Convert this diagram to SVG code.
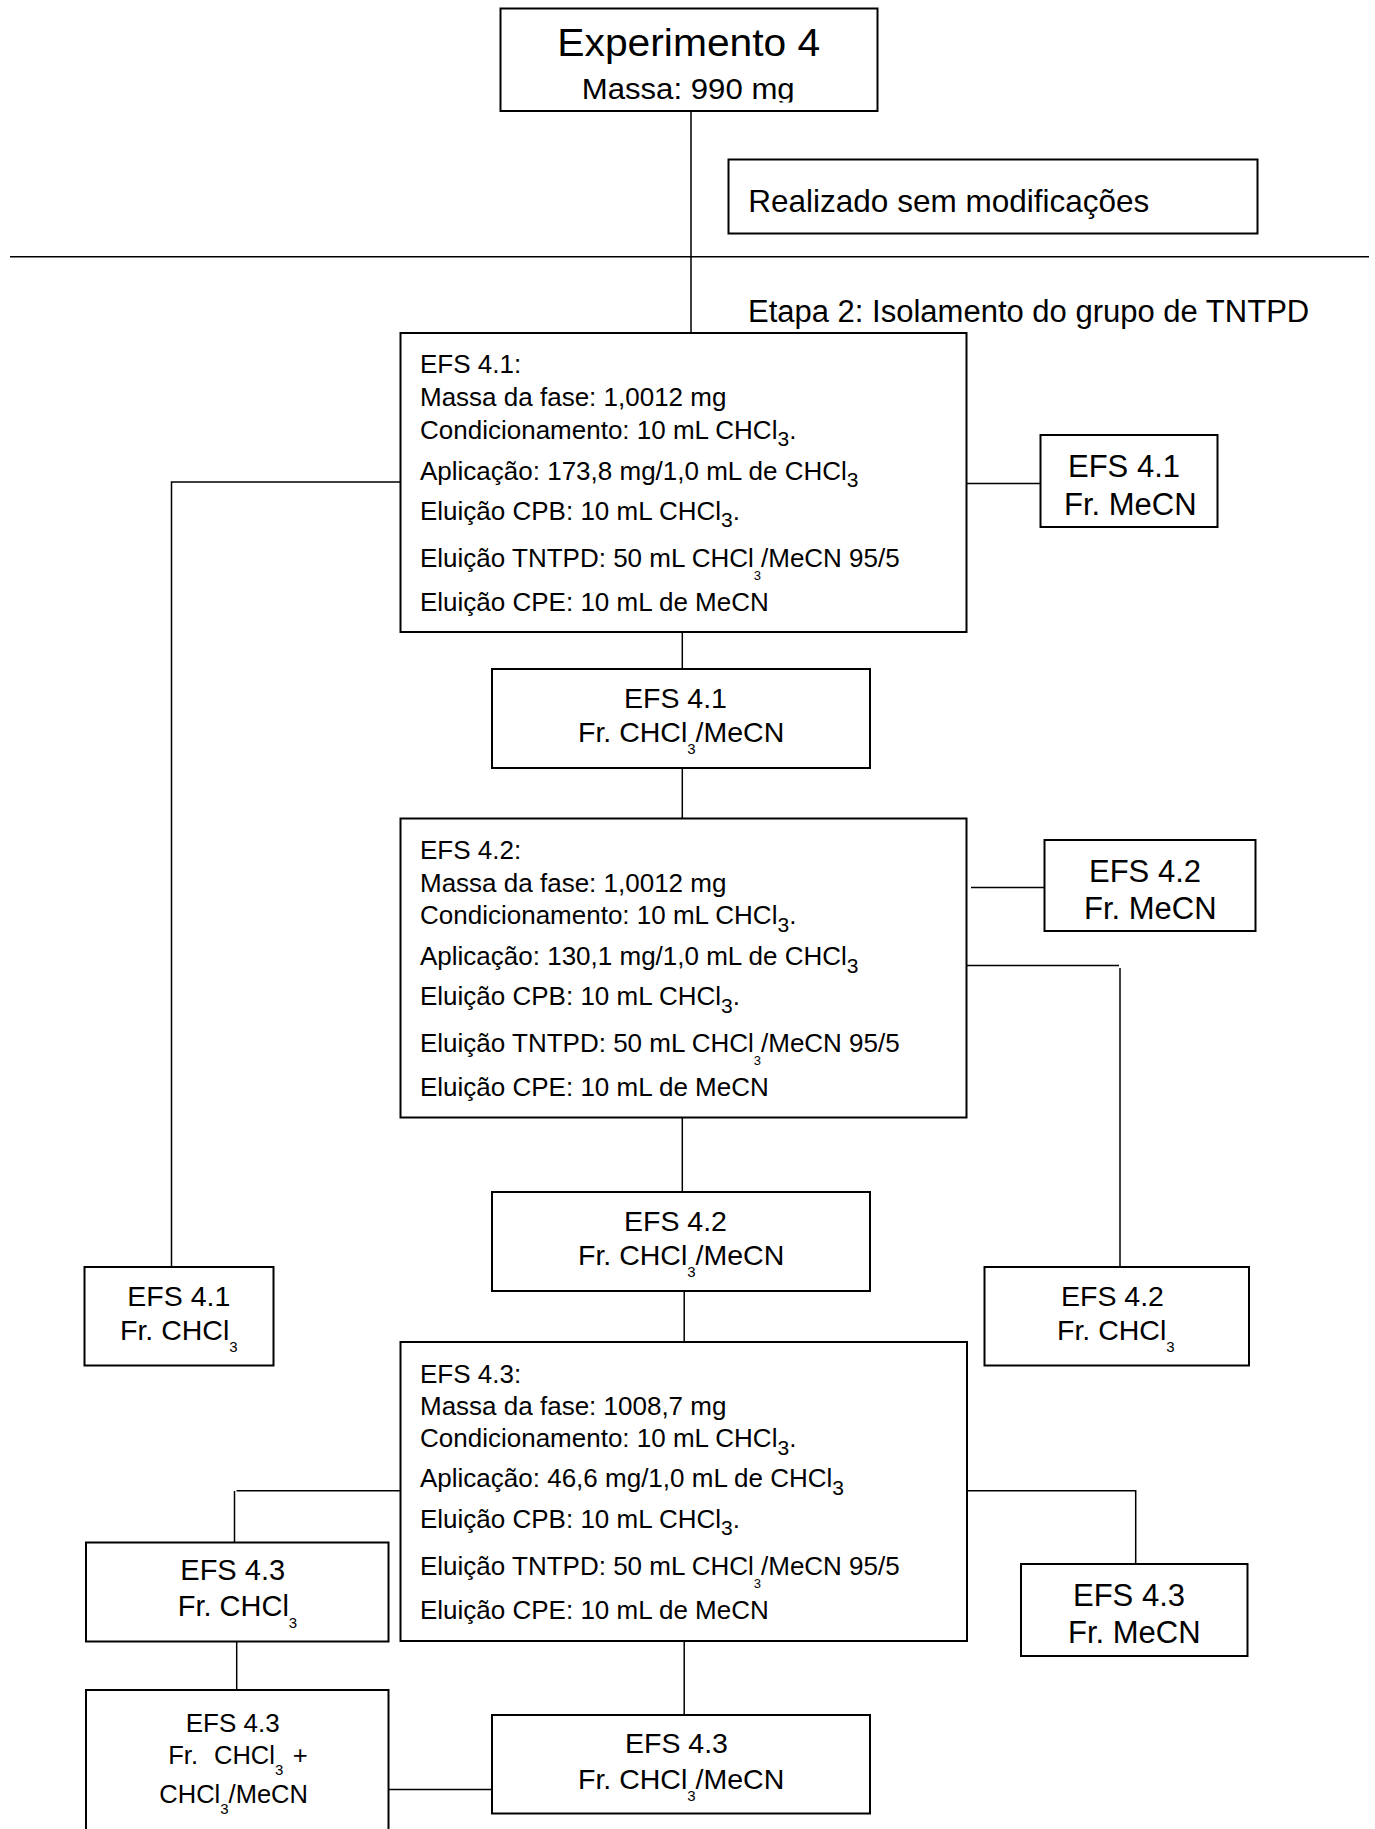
<svg xmlns="http://www.w3.org/2000/svg" width="1375" height="1829" viewBox="0 0 1375 1829">
<style>
  .box { fill: #fff; stroke: #000; stroke-width: 2; }
  .ln { stroke: #000; stroke-width: 1.5; fill: none; }
  text { font-family: "Liberation Sans", Arial, sans-serif; fill: #000; }
  .t26 { font-size: 26px; }
  .sb { font-size: 21px; }
  .ss { font-size: 13px; }
  .s15 { font-size: 15px; }
  .m28 { font-size: 28.5px; }
  .m29 { font-size: 29px; }
  .m31 { font-size: 31px; }
  .m25 { font-size: 25.5px; }
</style>
<defs>
  <clipPath id="clipTop"><rect x="500" y="8" width="378" height="94.5"/></clipPath>
</defs>
<rect width="1375" height="1829" fill="#fff"/>

<g id="connectors">
  <line class="ln" x1="691" y1="107" x2="691" y2="333" stroke-width="1.2"/>
  <line class="ln" x1="10" y1="256.7" x2="1369" y2="256.7" stroke-width="2"/>
  <polyline class="ln" points="400,482 171.5,482 171.5,1267"/>
  <line class="ln" x1="966.5" y1="483.5" x2="1040.5" y2="483.5"/>
  <line class="ln" x1="682.3" y1="632" x2="682.3" y2="669"/>
  <line class="ln" x1="682.3" y1="768" x2="682.3" y2="818.5"/>
  <line class="ln" x1="971" y1="887.6" x2="1044.5" y2="887.6"/>
  <line class="ln" x1="966.5" y1="965.5" x2="1119" y2="965.5"/>
  <line class="ln" x1="1120" y1="968" x2="1120" y2="1267"/>
  <line class="ln" x1="682.3" y1="1117.5" x2="682.3" y2="1192"/>
  <line class="ln" x1="684.2" y1="1291" x2="684.2" y2="1342"/>
  <line class="ln" x1="236.5" y1="1490.7" x2="404" y2="1490.7"/>
  <line class="ln" x1="234.5" y1="1491" x2="234.5" y2="1542.5"/>
  <line class="ln" x1="236.7" y1="1639.5" x2="236.7" y2="1690"/>
  <line class="ln" x1="388.5" y1="1789.5" x2="492" y2="1789.5"/>
  <polyline class="ln" points="967,1490.7 1135.7,1490.7 1135.7,1564"/>
  <line class="ln" x1="684.2" y1="1641" x2="684.2" y2="1715"/>
</g>

<g id="exp4">
  <rect class="box" x="500.5" y="8.5" width="377" height="102.5"/>
  <text x="557.3" y="56.3" font-size="38" textLength="263" lengthAdjust="spacingAndGlyphs">Experimento 4</text>
  <text x="581.7" y="98.7" font-size="30" textLength="213" lengthAdjust="spacingAndGlyphs" clip-path="url(#clipTop)">Massa: 990 mg</text>
</g>

<g id="realizado">
  <rect class="box" x="728.5" y="159.5" width="529" height="74"/>
  <text x="748.3" y="211.7" font-size="31.5">Realizado sem modificações</text>
</g>

<g id="etapa2">
  <text x="748" y="322" font-size="31">Etapa 2: Isolamento do grupo de TNTPD</text>
</g>

<g id="efs41">
  <rect class="box" x="400.5" y="333" width="566" height="299"/>
  <text class="t26" x="420" y="373">EFS 4.1:</text>
  <text class="t26" x="420" y="406">Massa da fase: 1,0012 mg</text>
  <text class="t26" x="420" y="438.5">Condicionamento: 10 mL CHCl<tspan class="sb" dy="7.5">3</tspan><tspan dy="-7.5">.</tspan></text>
  <text class="t26" x="420" y="479.5">Aplicação: 173,8 mg/1,0 mL de CHCl<tspan class="sb" dy="7.5">3</tspan></text>
  <text class="t26" x="420" y="519.5">Eluição CPB: 10 mL CHCl<tspan class="sb" dy="7.5">3</tspan><tspan dy="-7.5">.</tspan></text>
  <text class="t26" x="420" y="566.7">Eluição TNTPD: 50 mL CHCl<tspan class="ss" dy="13">3</tspan><tspan dy="-13">/MeCN 95/5</tspan></text>
  <text class="t26" x="420" y="610.7">Eluição CPE: 10 mL de MeCN</text>
</g>

<g id="efs41-mecn">
  <rect class="box" x="1040.5" y="435" width="177" height="92"/>
  <text class="m31" x="1068" y="477">EFS 4.1</text>
  <text class="m31" x="1064" y="515" font-size="30.5">Fr. MeCN</text>
</g>

<g id="efs41-chcl3-mecn">
  <rect class="box" x="492" y="669" width="378" height="99"/>
  <text class="m28" x="624" y="708.3">EFS 4.1</text>
  <text class="m28" x="578" y="741.7">Fr. CHCl<tspan class="s15" dy="12">3</tspan><tspan dy="-12">/MeCN</tspan></text>
</g>

<g id="efs42">
  <rect class="box" x="400.5" y="818.5" width="566" height="299"/>
  <text class="t26" x="420" y="858.5">EFS 4.2:</text>
  <text class="t26" x="420" y="891.5">Massa da fase: 1,0012 mg</text>
  <text class="t26" x="420" y="924">Condicionamento: 10 mL CHCl<tspan class="sb" dy="7.5">3</tspan><tspan dy="-7.5">.</tspan></text>
  <text class="t26" x="420" y="965">Aplicação: 130,1 mg/1,0 mL de CHCl<tspan class="sb" dy="7.5">3</tspan></text>
  <text class="t26" x="420" y="1005">Eluição CPB: 10 mL CHCl<tspan class="sb" dy="7.5">3</tspan><tspan dy="-7.5">.</tspan></text>
  <text class="t26" x="420" y="1052.3">Eluição TNTPD: 50 mL CHCl<tspan class="ss" dy="13">3</tspan><tspan dy="-13">/MeCN 95/5</tspan></text>
  <text class="t26" x="420" y="1096">Eluição CPE: 10 mL de MeCN</text>
</g>

<g id="efs42-mecn">
  <rect class="box" x="1044.5" y="840" width="211" height="91"/>
  <text class="m31" x="1089" y="881.6">EFS 4.2</text>
  <text class="m31" x="1084" y="919" font-size="30.5">Fr. MeCN</text>
</g>

<g id="efs42-chcl3-mecn">
  <rect class="box" x="492" y="1192" width="378" height="99"/>
  <text class="m28" x="624" y="1231.3">EFS 4.2</text>
  <text class="m28" x="578" y="1264.7">Fr. CHCl<tspan class="s15" dy="12">3</tspan><tspan dy="-12">/MeCN</tspan></text>
</g>

<g id="efs41-chcl3">
  <rect class="box" x="84.5" y="1267" width="189" height="98.5"/>
  <text class="m28" x="127.3" y="1306">EFS 4.1</text>
  <text class="m28" x="120" y="1340">Fr. CHCl<tspan class="s15" dy="12">3</tspan></text>
</g>

<g id="efs42-chcl3">
  <rect class="box" x="984.5" y="1267" width="264.5" height="98.5"/>
  <text class="m28" x="1061" y="1306">EFS 4.2</text>
  <text class="m28" x="1057" y="1340">Fr. CHCl<tspan class="s15" dy="12">3</tspan></text>
</g>

<g id="efs43">
  <rect class="box" x="400.5" y="1342" width="566.5" height="299"/>
  <text class="t26" x="420" y="1382.7">EFS 4.3:</text>
  <text class="t26" x="420" y="1415">Massa da fase: 1008,7 mg</text>
  <text class="t26" x="420" y="1447">Condicionamento: 10 mL CHCl<tspan class="sb" dy="7.5">3</tspan><tspan dy="-7.5">.</tspan></text>
  <text class="t26" x="420" y="1487">Aplicação: 46,6 mg/1,0 mL de CHCl<tspan class="sb" dy="7.5">3</tspan></text>
  <text class="t26" x="420" y="1527.5">Eluição CPB: 10 mL CHCl<tspan class="sb" dy="7.5">3</tspan><tspan dy="-7.5">.</tspan></text>
  <text class="t26" x="420" y="1575">Eluição TNTPD: 50 mL CHCl<tspan class="ss" dy="13">3</tspan><tspan dy="-13">/MeCN 95/5</tspan></text>
  <text class="t26" x="420" y="1618.5">Eluição CPE: 10 mL de MeCN</text>
</g>

<g id="efs43-chcl3">
  <rect class="box" x="86" y="1542.5" width="302.5" height="99"/>
  <text class="m29" x="180.3" y="1580">EFS 4.3</text>
  <text class="m29" x="177.7" y="1616">Fr. CHCl<tspan class="s15" dy="12">3</tspan></text>
</g>

<g id="efs43-mecn">
  <rect class="box" x="1021" y="1564" width="226.5" height="92"/>
  <text class="m31" x="1073" y="1605.7">EFS 4.3</text>
  <text class="m31" x="1068" y="1643.3" font-size="30.5">Fr. MeCN</text>
</g>

<g id="efs43-combined">
  <rect class="box" x="86" y="1690" width="302.5" height="150"/>
  <text x="185.7" y="1731.7" font-size="26">EFS 4.3</text>
  <text class="m25" y="1764"><tspan x="168.3">Fr.</tspan><tspan x="214">CHCl</tspan><tspan class="s15" dy="11">3</tspan><tspan x="292.7" dy="-11">+</tspan></text>
  <text class="m25" x="159.3" y="1803.3">CHCl<tspan class="s15" dy="11">3</tspan><tspan dy="-11">/MeCN</tspan></text>
</g>

<g id="efs43-chcl3-mecn">
  <rect class="box" x="492" y="1715" width="378" height="98.5"/>
  <text class="m28" x="625" y="1753.3">EFS 4.3</text>
  <text class="m28" x="578" y="1789.3">Fr. CHCl<tspan class="s15" dy="12">3</tspan><tspan dy="-12">/MeCN</tspan></text>
</g>
</svg>
